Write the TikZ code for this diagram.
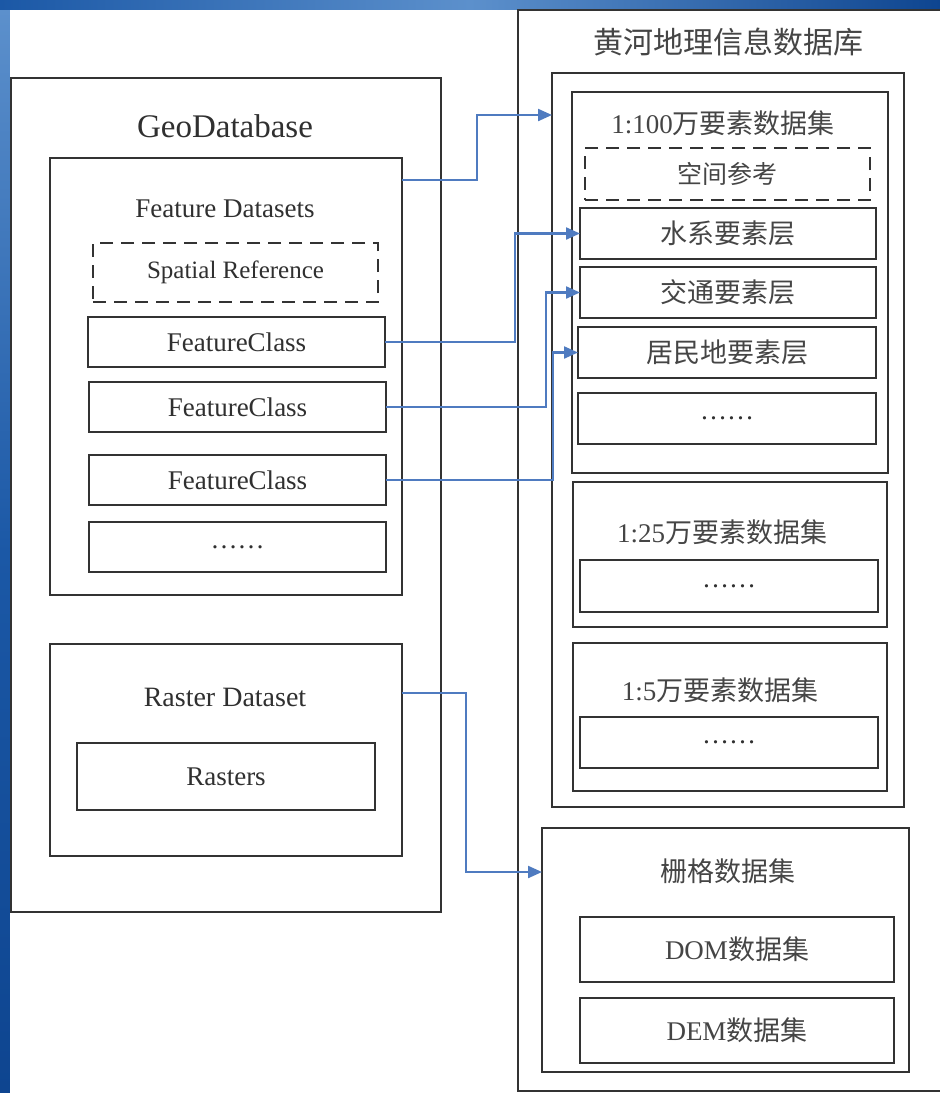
\documentclass[tikz,border=0pt]{standalone}
\usepackage{fontspec}
\setmainfont{Liberation Serif}
\newfontfamily\cjk{Noto Sans CJK SC}
\usetikzlibrary{arrows.meta,calc}
\definecolor{linec}{HTML}{333333}
\definecolor{textc}{HTML}{303030}
\definecolor{cjkc}{HTML}{454545}
\definecolor{connc}{HTML}{4F7BC0}
\definecolor{bgblue}{HTML}{1B58A6}
\definecolor{bgdark}{HTML}{0E4590}
\definecolor{bglight}{HTML}{5C90CC}
\newcommand\myfs[1]{\fontsize{#1}{#1}\selectfont}
\tikzset{
  bx/.style={draw=linec, line width=2.3pt, rectangle, inner sep=0pt, outer sep=0pt},
  dbx/.style={bx, dash pattern=on 13pt off 8pt},
  txt/.style={text=textc, inner sep=0pt, font=\myfs{27}},
  ctxt/.style={text=cjkc, inner sep=0pt, font=\myfs{27}\cjk},
  conn/.style={draw=connc, line width=2.2pt, -{Triangle[length=14pt,width=12pt]}},
}
\begin{document}
\begin{tikzpicture}[x=1pt,y=-1pt]
\useasboundingbox (0,0) rectangle (940,1093);
% background
\fill[bgblue] (0,0) rectangle (940,1093);
\shade[left color=bgblue, right color=bgdark, middle color=bglight] (0,0) rectangle (940,10);
\shade[top color=bglight, bottom color=bgdark, middle color=bgblue] (0,10) rectangle (10,1093);
\fill[white] (10,10) rectangle (940,1093);

% left side
\node[bx, minimum width=430pt, minimum height=834pt] (geo) at (226,495) {};
\node[txt, font=\myfs{33}] (geot) at (225,126) {GeoDatabase};
\node[bx, minimum width=352pt, minimum height=437pt] (fd) at (226,376.5) {};
\node[txt] (fdt) at (225,209) {Feature Datasets};
\node[dbx, minimum width=285pt, minimum height=59pt, txt, font=\myfs{25}] (sr) at (235.5,272.5) {Spatial Reference};
\node[bx, txt, minimum width=297pt, minimum height=50pt] (fc1) at (236.5,342) {FeatureClass};
\node[bx, txt, minimum width=297pt, minimum height=50pt] (fc2) at (237.5,407) {FeatureClass};
\node[bx, txt, minimum width=297pt, minimum height=50pt] (fc3) at (237.5,480) {FeatureClass};
\node[bx, txt, minimum width=297pt, minimum height=50pt] (fcd) at (237.5,547) {……};
\node[bx, minimum width=352pt, minimum height=212pt] (rd) at (226,750) {};
\node[txt, font=\myfs{28}] (rdt) at (225,697) {Raster Dataset};
\node[bx, txt, minimum width=298pt, minimum height=67pt] (ras) at (226,776.5) {Rasters};

% right side
\node[bx, minimum width=430pt, minimum height=1081pt] (yr) at (733,550.5) {};
\node[ctxt, font=\myfs{30}\cjk] (yrt) at (728,42) {黄河地理信息数据库};
\node[bx, minimum width=352pt, minimum height=734pt] (boxA) at (728,440) {};
\node[bx, minimum width=316pt, minimum height=381pt] (b100) at (730,282.5) {};
\node[ctxt] (b100t) at (723,123) {{\rmfamily 1:100}万要素数据集};
\node[dbx, ctxt, font=\myfs{25}\cjk, minimum width=285pt, minimum height=52pt] (kj) at (727.5,174) {空间参考};
\node[bx, ctxt, minimum width=296pt, minimum height=51pt] (sx) at (728,233.5) {水系要素层};
\node[bx, ctxt, minimum width=296pt, minimum height=51pt] (jt) at (728,292.5) {交通要素层};
\node[bx, ctxt, minimum width=298pt, minimum height=51pt] (jm) at (727,352.5) {居民地要素层};
\node[bx, txt, minimum width=298pt, minimum height=51pt] (b100d) at (727,418.5) {……};
\node[bx, minimum width=314pt, minimum height=145pt] (b25) at (730,554.5) {};
\node[ctxt] (b25t) at (722,532) {{\rmfamily 1:25}万要素数据集};
\node[bx, txt, minimum width=298pt, minimum height=52pt] (b25d) at (729,586) {……};
\node[bx, minimum width=314pt, minimum height=148pt] (b5) at (730,717) {};
\node[ctxt] (b5t) at (720,690) {{\rmfamily 1:5}万要素数据集};
\node[bx, txt, minimum width=298pt, minimum height=51pt] (b5d) at (729,742.5) {……};
\node[bx, minimum width=367pt, minimum height=244pt] (sg) at (725.5,950) {};
\node[ctxt] (sgt) at (728,871) {栅格数据集};
\node[bx, ctxt, minimum width=314pt, minimum height=65pt] (dom) at (737,949.5) {{\rmfamily DOM}数据集};
\node[bx, ctxt, minimum width=314pt, minimum height=65pt] (dem) at (737,1030.5) {{\rmfamily DEM}数据集};

% connectors
\coordinate (k0) at (477,115);
\coordinate (k1) at (515,0);
\coordinate (k2) at (546,0);
\coordinate (k3) at (553,0);
\coordinate (k4) at (466,872);
\draw[conn] ($(fd.north east)+(0,22)$) -| (k0) -- (boxA.west |- k0);
\draw[conn] (fc1.east) -- (fc1.east -| k1) |- (sx.west);
\draw[conn] (fc2.east) -- (fc2.east -| k2) |- (jt.west);
\draw[conn] (fc3.east) -- (fc3.east -| k3) |- (jm.west);
\draw[conn] ($(rd.north east)+(0,49)$) -| (k4) -- (sg.west |- k4);
\end{tikzpicture}
\end{document}
